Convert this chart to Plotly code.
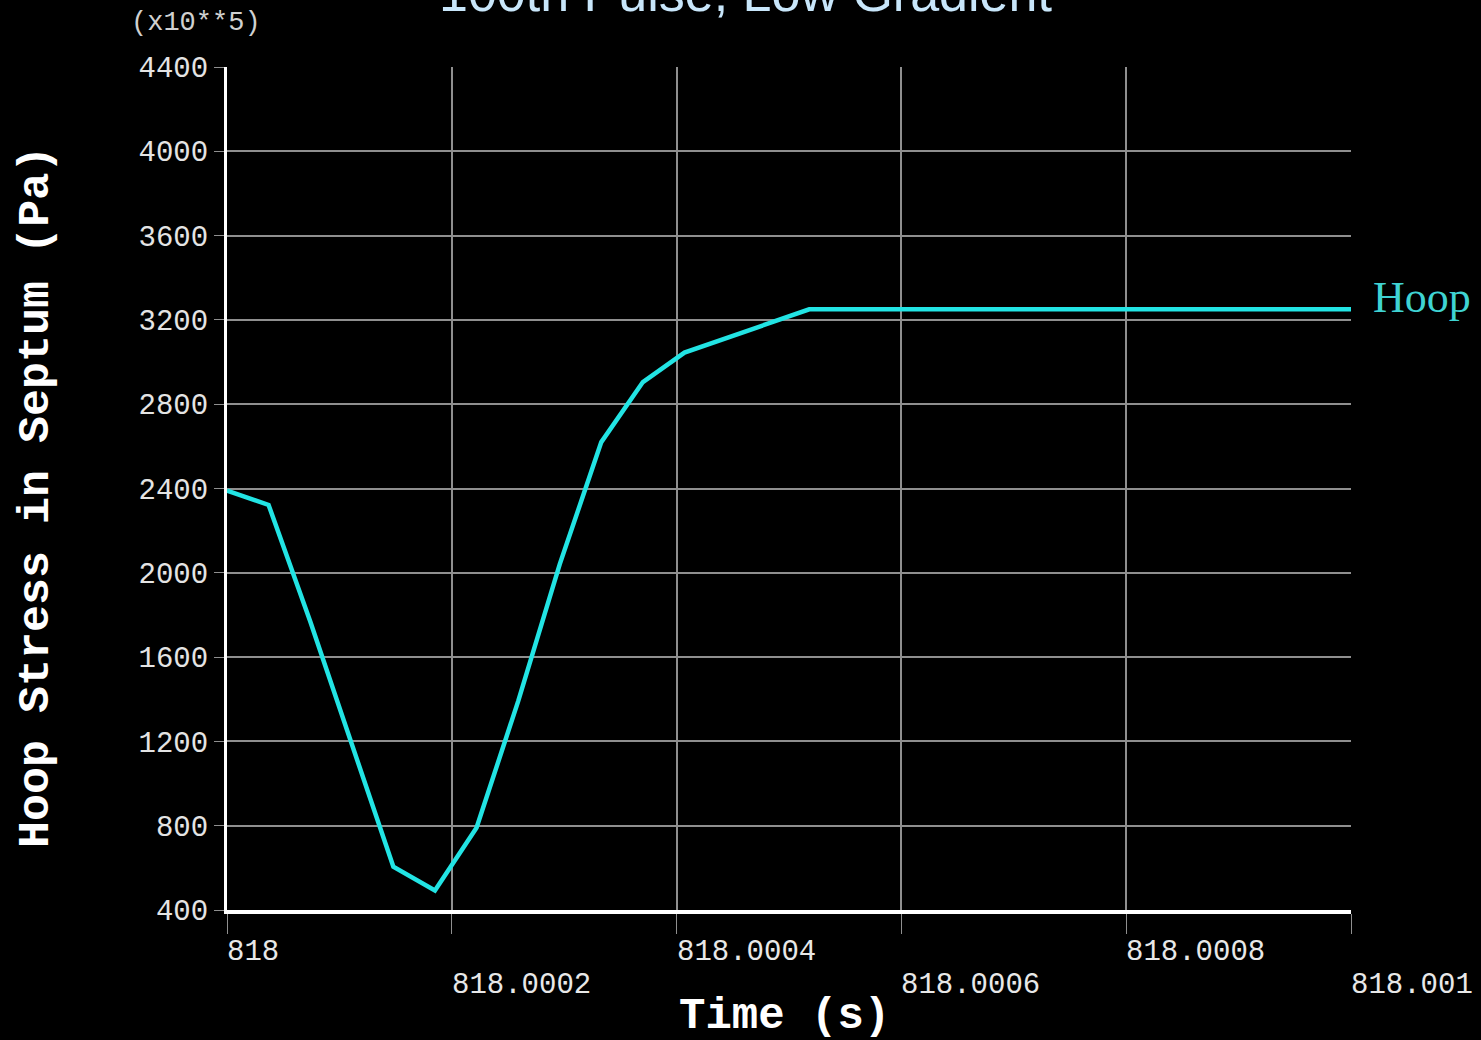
import plotly.graph_objects as go

# Hoop stress history in the septum, 100th pulse (low gradient case)
time_s = [818.0, 818.000037, 818.000074, 818.000111, 818.000148, 818.000185,
          818.000222, 818.000259, 818.000296, 818.000333, 818.00037,
          818.000407, 818.000444, 818.000481, 818.000518, 818.001]
hoop_stress = [2390, 2322, 1770, 1190, 605, 493, 790, 1390, 2040, 2620, 2905,
               3045, 3115, 3185, 3250, 3250]  # units of 1e5 Pa

x_ticks = [818.0, 818.0002, 818.0004, 818.0006, 818.0008, 818.001]
x_tick_text = ["818", "818.0002", "818.0004", "818.0006", "818.0008", "818.001"]
y_ticks = [400, 800, 1200, 1600, 2000, 2400, 2800, 3200, 3600, 4000, 4400]

MONO = "Liberation Mono, Courier New, monospace"
GRID = "#8f8f8f"

fig = go.Figure()
fig.add_trace(go.Scatter(
    x=time_s, y=hoop_stress, mode="lines", name="Hoop",
    line=dict(color="#22e4e4", width=4.5), showlegend=False,
))

fig.update_layout(
    width=1481, height=1040,
    paper_bgcolor="black", plot_bgcolor="black",
    margin=dict(l=227, r=130, t=67, b=130),
    xaxis=dict(
        range=[818.0, 818.001], tickvals=x_ticks, showticklabels=False,
        showgrid=True, gridcolor=GRID, gridwidth=2,
        ticks="outside", ticklen=20, tickcolor=GRID, tickwidth=1,
        showline=True, linecolor="white", linewidth=4, zeroline=False,
    ),
    yaxis=dict(
        range=[400, 4400], tickvals=y_ticks,
        tickfont=dict(family=MONO, size=29, color="#e4e4e4"),
        showgrid=True, gridcolor=GRID, gridwidth=2,
        ticks="outside", ticklen=10, tickcolor=GRID, tickwidth=1,
        showline=True, linecolor="white", linewidth=3, zeroline=False,
    ),
)

annotations = []
# staggered time labels, alternating between two rows
for i, (v, t) in enumerate(zip(x_ticks, x_tick_text)):
    annotations.append(dict(
        x=v, xref="x", y=-0.05 if i % 2 == 0 else -0.089, yref="paper",
        text=t, showarrow=False, xanchor="left", yanchor="middle", xshift=-2,
        font=dict(family=MONO, size=29, color="#e8e8e8"),
    ))

annotations += [
    dict(x=0.496, xref="paper", y=-0.126, yref="paper", text="<b>Time (s)</b>",
         showarrow=False, xanchor="center", yanchor="middle",
         font=dict(family=MONO, size=44, color="white")),
    dict(x=-0.169, xref="paper", y=0.49, yref="paper",
         text="<b>Hoop Stress in Septum (Pa)</b>", textangle=-90,
         showarrow=False, xanchor="center", yanchor="middle",
         font=dict(family=MONO, size=45, color="white")),
    dict(x=-0.0276, xref="paper", y=1.052, yref="paper", text="(x10**5)",
         showarrow=False, xanchor="center", yanchor="middle",
         font=dict(family=MONO, size=27, color="#d0d0d0")),
    dict(x=time_s[-1], xref="x", y=hoop_stress[-1], yref="y", text="Hoop",
         showarrow=False, xanchor="left", yanchor="middle", xshift=20, yshift=12,
         font=dict(family="Liberation Serif, Times New Roman, serif", size=44,
                   color="#3fd3d3")),
    dict(x=0.4617, xref="paper", y=1.051, yref="paper",
         text="100th Pulse, Low Gradient", showarrow=False,
         xanchor="center", yanchor="bottom",
         font=dict(family="Liberation Sans, Arial, sans-serif", size=52,
                   color="#c8e6fa")),
]
fig.update_layout(annotations=annotations)

fig.write_html("out.html")
